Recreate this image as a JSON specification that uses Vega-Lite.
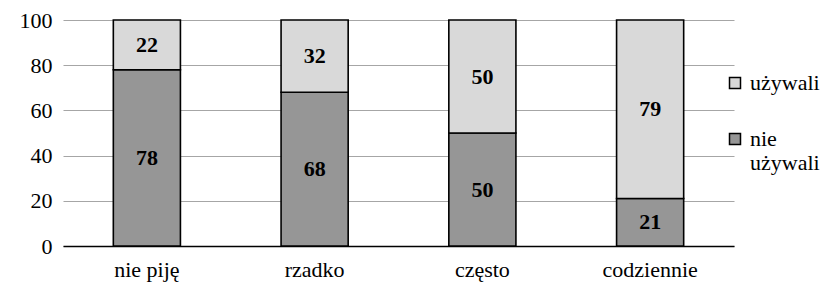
{
  "$schema": "https://vega.github.io/schema/vega-lite/v6.json",
  "width": 671,
  "height": 226,
  "autosize": "none",
  "padding": {"left": 63, "top": 20, "right": 88, "bottom": 40},
  "background": "white",
  "config": {
    "font": "Liberation Serif",
    "view": {"stroke": null},
    "axis": {"labelFont": "Liberation Serif", "labelFontSize": 22},
    "legend": {"labelFont": "Liberation Serif", "labelFontSize": 22},
    "text": {"font": "Liberation Serif"}
  },
  "data": {
    "values": [
      {"cat": "nie piję", "grp": "nie używali", "value": 78},
      {"cat": "nie piję", "grp": "używali", "value": 22},
      {"cat": "rzadko", "grp": "nie używali", "value": 68},
      {"cat": "rzadko", "grp": "używali", "value": 32},
      {"cat": "często", "grp": "nie używali", "value": 50},
      {"cat": "często", "grp": "używali", "value": 50},
      {"cat": "codziennie", "grp": "nie używali", "value": 21},
      {"cat": "codziennie", "grp": "używali", "value": 79}
    ]
  },
  "encoding": {
    "x": {
      "field": "cat", "type": "nominal", "sort": null,
      "scale": {"paddingInner": 0.6, "paddingOuter": 0.3},
      "axis": {"title": null, "labelAngle": 0, "labelFontSize": 22, "labelFont": "Liberation Serif", "labelColor": "#000", "ticks": false, "domainColor": "#000", "domainWidth": 1.5, "labelPadding": 13}
    },
    "order": {"field": "grp", "sort": "ascending"}
  },
  "layer": [
    {
      "mark": {"type": "bar", "stroke": "#000", "strokeWidth": 1.6},
      "encoding": {
        "y": {
          "field": "value", "type": "quantitative", "stack": "zero",
          "scale": {"domain": [0, 100], "nice": false},
          "axis": {"title": null, "values": [0, 20, 40, 60, 80, 100], "labelFontSize": 22, "labelFont": "Liberation Serif", "labelColor": "#000", "ticks": false, "domain": false, "gridColor": "#a6a6a6", "gridWidth": 1.2, "labelPadding": 11}
        },
        "color": {
          "field": "grp", "type": "nominal",
          "scale": {"domain": ["używali", "nie używali"], "range": ["#d9d9d9", "#969696"]},
          "legend": {
            "title": null, "orient": "none", "legendX": 661, "legendY": 52,
            "symbolType": "square", "symbolSize": 121, "symbolStrokeColor": "#000", "symbolStrokeWidth": 1.5,
            "labelFontSize": 22, "labelFont": "Liberation Serif", "labelColor": "#000", "labelOffset": 4,
            "rowPadding": 34, "labelLimit": 200,
            "labelExpr": "datum.label == 'nie używali' ? ['nie', 'używali'] : datum.label"
          }
        }
      }
    },
    {
      "mark": {"type": "text", "fontSize": 22, "fontWeight": "bold", "color": "#000", "font": "Liberation Serif"},
      "encoding": {
        "y": {"field": "value", "type": "quantitative", "stack": "zero", "bandPosition": 0.5},
        "detail": {"field": "grp"},
        "text": {"field": "value", "type": "quantitative"}
      }
    }
  ]
}
